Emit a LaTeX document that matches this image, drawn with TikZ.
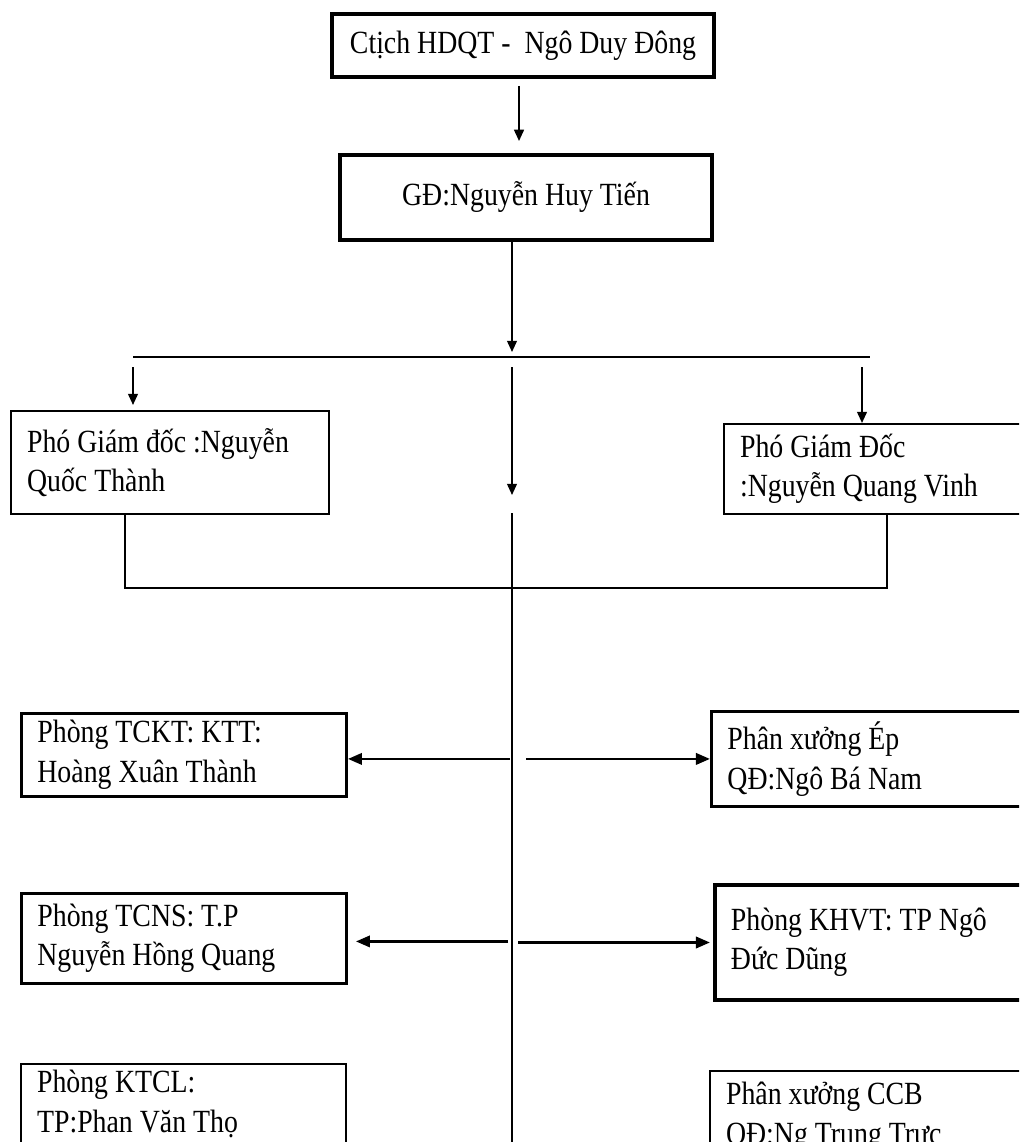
\documentclass[tikz,border=0pt]{standalone}
\usepackage{fontspec}
\setmainfont[FakeStretch=0.86]{Liberation Serif}
\usepackage{tikz}
\usetikzlibrary{positioning,calc,arrows.meta}

\begin{document}
\begin{tikzpicture}[x=0.025cm, y=-0.025cm,
    unit/.style 2 args={draw, line width=1.5pt, anchor=north west, align=flush left,
        inner xsep=0.4cm, text width=#1, minimum height=#2,
        font=\fontsize{23}{28}\selectfont},
    head/.style 2 args={draw, line width=2.8pt, anchor=north west,
        minimum width=#1, minimum height=#2, font=\fontsize{23}{28}\selectfont},
    arr/.style={-{Triangle[length=8pt,width=7pt]}, line width=1.3pt},
    sidearr/.style={-{Triangle[length=10pt,width=8pt]}, line width=2pt},
    link/.style={line width=1.3pt}]

    \useasboundingbox (0,0) rectangle (1019,1142);
    \clip (0,0) rectangle (1019,1142);

    % Board and director
    \node[head={9.55cm}{1.575cm}] (chu) at (330,12) {Ctịch HDQT -~ Ngô Duy Đông};
    \node[head={9.3cm}{2.125cm}] (gd) at (338,153) {GĐ:Nguyễn Huy Tiến};

    % Deputies
    \node[unit={7.15cm}{2.575cm}] (pgd1) at (10,410) {Phó Giám đốc :Nguyễn\\Quốc Thành};
    \node[unit={7.125cm}{2.25cm}] (pgd2) at (723,423) {Phó Giám Đốc\\:Nguyễn Quang Vinh};

    % Departments
    \node[unit={7.325cm}{2.075cm}, line width=2pt] (tckt) at (20,712) {Phòng TCKT: KTT:\\Hoàng Xuân Thành};
    \node[unit={7.45cm}{2.375cm}, line width=2pt] (ep) at (710,710) {Phân xưởng Ép\\QĐ:Ngô Bá Nam};
    \node[unit={7.325cm}{2.25cm}, line width=2pt] (tcns) at (20,892) {Phòng TCNS: T.P\\Nguyễn Hồng Quang};
    \node[unit={7.375cm}{2.875cm}, line width=2.8pt] (khvt) at (713,883) {Phòng KHVT: TP Ngô\\Đức Dũng};
    \node[unit={7.325cm}{2.0cm}] (ktcl) at (20,1063) {Phòng KTCL:\\TP:Phan Văn Thọ};
    \node[unit={7.4cm}{2.275cm}] (ccb) at (709,1070) {Phân xưởng CCB\\QĐ:Ng Trung Trực};

    % Junction points
    \coordinate (split) at (512,357);
    \coordinate (splitL) at (133,357);
    \coordinate (splitR) at (870,357);
    \coordinate (joinL) at (125,588);
    \coordinate (joinR) at (887,588);
    \coordinate (stem) at (512,513);
    \coordinate (stemEnd) at (512,1160);

    % Top connectors
    \draw[arr] ($(chu.south)+(-4,7)$) -- ($(chu.south |- gd.north)+(-4,-12)$);
    \draw[arr] (gd.south -| split) -- ($(split)+(0,-5)$);
    \draw[link] (splitL) -- (splitR);
    \draw[arr] ($(splitL)+(0,10)$) -- ($(splitL |- pgd1.north)+(0,-5)$);
    \draw[arr] ($(split)+(0,10)$) -- ($(stem)+(0,-18)$);
    \draw[arr] ($(splitR)+(-8,10)$) -- ($(splitR |- pgd2.north)+(-8,0)$);
    \draw[link] (pgd1.south -| joinL) -- (joinL) -- (joinR) -- (pgd2.south -| joinR);

    % Main stem and branches
    \draw[link] (stem) -- (stemEnd);
    \draw[sidearr] ($(stem |- tckt.east)+(-2,4)$) -- ($(tckt.east)+(0,4)$);
    \draw[sidearr] ($(stem |- ep.west)+(14,0)$) -- (ep.west);
    \draw[sidearr] ($(stem |- tcns.east)+(-4,3)$) -- ($(tcns.east)+(8,3)$);
    \draw[sidearr] ($(stem |- khvt.west)+(6,0)$) -- ($(khvt.west)+(-3,0)$);
\end{tikzpicture}
\end{document}
